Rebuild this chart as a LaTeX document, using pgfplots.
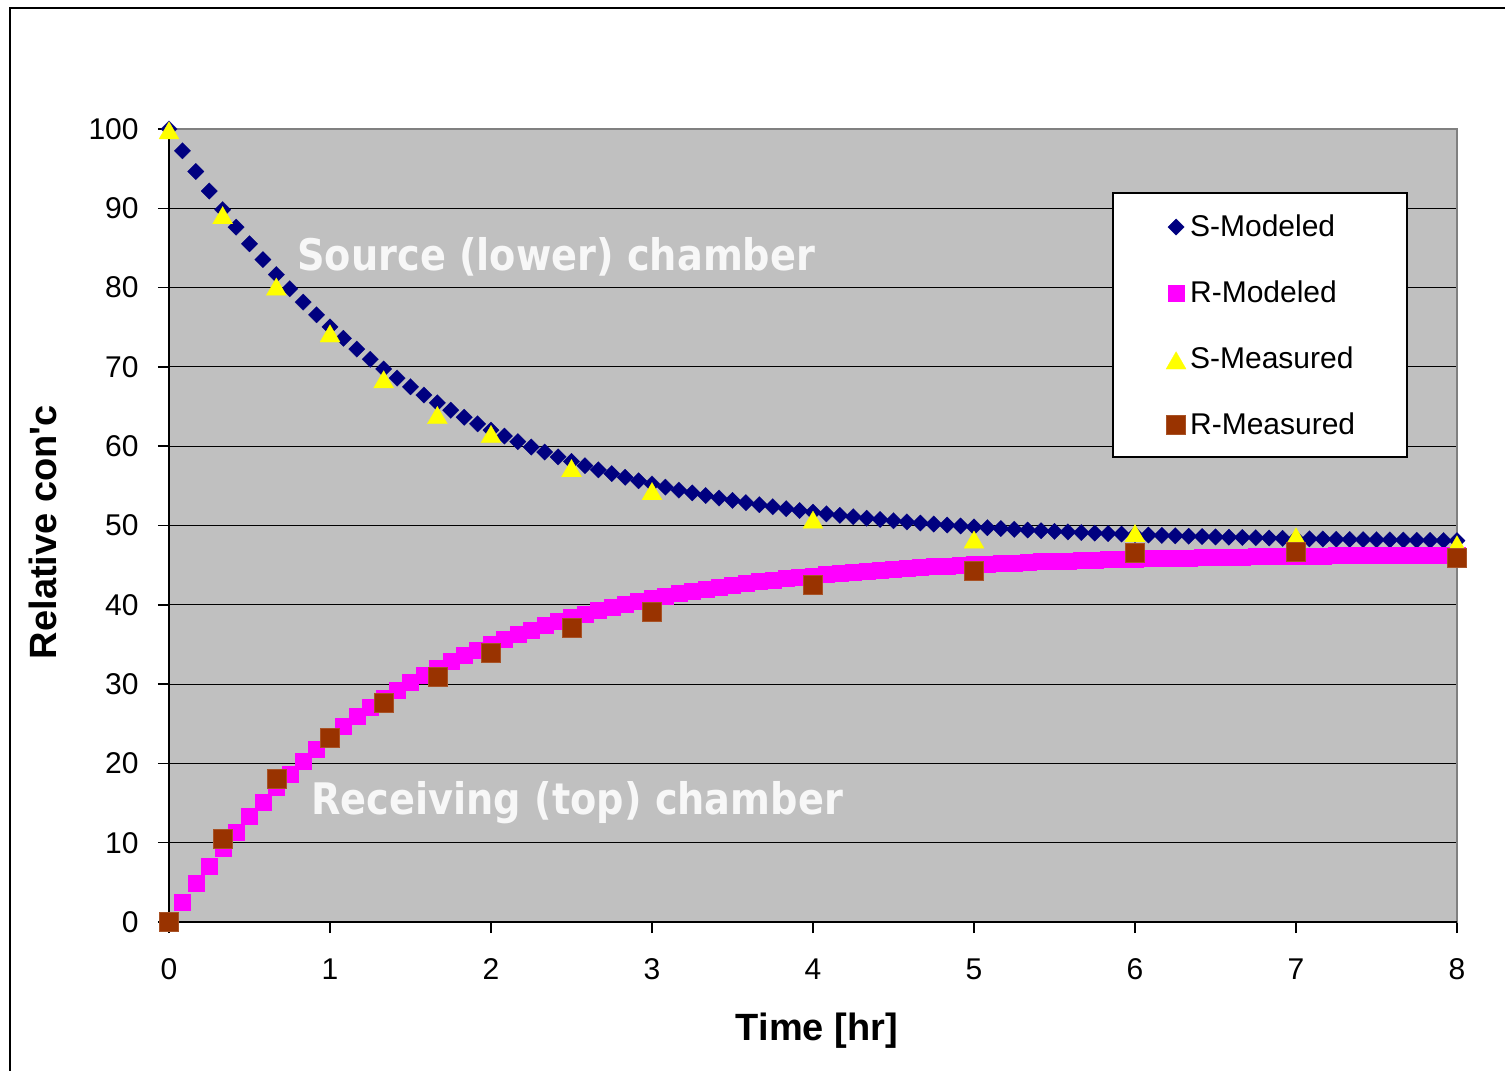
\documentclass[border=0pt]{standalone}
\usepackage{pgfplots}
\pgfplotsset{compat=1.18}
\usepackage{pgfplotstable}
\usepackage{fontspec}
\setmainfont{Liberation Sans}
\newfontfamily\annfont{DejaVu Sans}[FakeStretch=0.88]
\definecolor{plotgray}{RGB}{192,192,192}
\definecolor{navyS}{RGB}{0,0,128}
\definecolor{magR}{RGB}{255,0,255}
\definecolor{yelS}{RGB}{255,255,0}
\definecolor{brnR}{RGB}{153,51,0}
\definecolor{annot}{RGB}{247,247,247}
\definecolor{bordergray}{RGB}{128,128,128}

\pgfplotstableread{
t S R
0 100.00 0.00
0.0833 97.25 2.45
0.1667 94.64 4.85
0.25 92.17 7.10
0.3333 89.83 9.30
0.4167 87.62 11.35
0.5 85.52 13.30
0.5833 83.53 15.15
0.6667 81.64 16.95
0.75 79.86 18.65
0.8333 78.17 20.25
0.9167 76.57 21.80
1 75.05 23.41
1.0833 73.61 24.72
1.1667 72.25 25.95
1.25 70.96 27.12
1.3333 69.74 28.21
1.4167 68.59 29.25
1.5 67.49 30.23
1.5833 66.45 31.15
1.6667 65.47 32.02
1.75 64.54 32.84
1.8333 63.65 33.61
1.9167 62.82 34.34
2 62.03 35.03
2.0833 61.28 35.68
2.1667 60.57 36.30
2.25 59.89 36.87
2.3333 59.26 37.42
2.4167 58.65 37.93
2.5 58.08 38.42
2.5833 57.54 38.88
2.6667 57.02 39.31
2.75 56.54 39.72
2.8333 56.08 40.10
2.9167 55.64 40.46
3 55.23 40.81
3.0833 54.84 41.13
3.1667 54.46 41.43
3.25 54.11 41.72
3.3333 53.78 41.99
3.4167 53.46 42.25
3.5 53.17 42.49
3.5833 52.88 42.71
3.6667 52.62 42.93
3.75 52.36 43.13
3.8333 52.12 43.32
3.9167 51.89 43.50
4 51.68 43.67
4.0833 51.47 43.83
4.1667 51.28 43.98
4.25 51.10 44.13
4.3333 50.92 44.26
4.4167 50.76 44.39
4.5 50.60 44.51
4.5833 50.45 44.62
4.6667 50.31 44.73
4.75 50.18 44.83
4.8333 50.06 44.92
4.9167 49.94 45.01
5 49.82 45.10
5.0833 49.72 45.18
5.1667 49.62 45.25
5.25 49.52 45.32
5.3333 49.43 45.39
5.4167 49.34 45.45
5.5 49.26 45.51
5.5833 49.19 45.57
5.6667 49.11 45.62
5.75 49.04 45.67
5.8333 48.98 45.72
5.9167 48.92 45.76
6 48.86 45.80
6.0833 48.80 45.84
6.1667 48.75 45.88
6.25 48.70 45.91
6.3333 48.65 45.95
6.4167 48.61 45.98
6.5 48.56 46.01
6.5833 48.52 46.04
6.6667 48.49 46.06
6.75 48.45 46.09
6.8333 48.42 46.11
6.9167 48.38 46.13
7 48.35 46.15
7.0833 48.32 46.17
7.1667 48.30 46.19
7.25 48.27 46.21
7.3333 48.24 46.23
7.4167 48.22 46.24
7.5 48.20 46.26
7.5833 48.18 46.27
7.6667 48.16 46.28
7.75 48.14 46.30
7.8333 48.12 46.31
7.9167 48.10 46.32
8 48.09 46.33
}\modeled

\pgfplotstableread{
t S R
0 100 0
0.3333 89.3 10.5
0.6667 80.3 18.0
1 74.4 23.2
1.3333 68.6 27.6
1.6667 64.1 30.9
2 61.7 33.9
2.5 57.4 37.1
3 54.5 39.1
4 50.9 42.5
5 48.4 44.3
6 49.2 46.6
7 48.8 46.7
8 47.8 45.9
}\measured

\begin{document}
\begin{tikzpicture}
\begin{axis}[
  at={(84.5pt,74.5pt)}, anchor=south west,
  scale only axis, width=644pt, height=396.5pt,
  xmin=0, xmax=8, ymin=0, ymax=100,
  xtick={0,1,...,8}, ytick={0,10,...,100},
  tick align=outside, major tick length=5.5pt,
  xtick pos=left, ytick pos=left,
  ymajorgrids, major grid style={black, line width=0.5pt},
  axis background/.style={fill=plotgray},
  axis line style={draw=bordergray, line width=0.75pt},
  every tick/.style={black, line width=0.75pt},
  tick label style={font=\fontsize{15}{18}\selectfont},
  yticklabel style={anchor=east, inner sep=0pt, xshift=-9.5pt},
  xticklabel style={anchor=north, inner sep=0pt, yshift=-12.5pt},
  /pgf/number format/assume math mode=true,
  clip=false,
  xlabel={Time [hr]}, ylabel={Relative con\textquotesingle c},
  label style={font=\bfseries\fontsize{19}{23}\selectfont},
  xlabel style={at={(axis description cs:0.503,-0.1488)}, anchor=base},
  ylabel style={at={(axis description cs:-0.087,0.4918)}, anchor=base},
  legend style={at={(rel axis cs:0.7741,0.8991)}, anchor=north west,
    draw=none, fill=none, inner sep=0pt, outer sep=0pt,
    row sep=16.1pt, column sep=0pt,
    font=\fontsize{15}{18}\selectfont,
    nodes={inner xsep=2pt, inner ysep=0pt, text height=10pt, text depth=3pt}},
  legend cell align=left,
  legend image code/.code={\path[draw=none, fill=none] (-5pt,0.4pt) rectangle (5pt,10.4pt); \draw[#1] plot coordinates {(0pt,1.4pt)};},
]
\draw[black, line width=0.75pt] (rel axis cs:0,1) -- (rel axis cs:0,0) -- (rel axis cs:1,0);
\addplot[only marks, color=navyS, mark=square*, mark size=2.9pt,
  mark options={rotate=45, fill=navyS, draw=navyS, line width=0.1pt}]
  table[x=t, y=S]{\modeled};
\addlegendentry{S-Modeled}
\addplot[only marks, color=magR, mark=square*, mark size=4pt,
  mark options={fill=magR, draw=magR, line width=0.1pt}]
  table[x=t, y=R]{\modeled};
\addlegendentry{R-Modeled}
\addplot[only marks, color=yelS, mark=triangle*, mark size=5.8pt,
  mark options={fill=yelS, draw=yelS, line width=0.1pt, yshift=-2.1pt}]
  table[x=t, y=S]{\measured};
\addlegendentry{S-Measured}
\addplot[only marks, color=brnR, mark=square*, mark size=4.75pt,
  mark options={fill=brnR, draw=brnR!85!white, line width=0.3pt}]
  table[x=t, y=R]{\measured};
\addlegendentry{R-Measured}
\draw[black, line width=0.6pt, fill=white] (rel axis cs:0.7329,0.9193) rectangle (rel axis cs:0.9612,0.5864);
\node[anchor=base west, text=annot, inner sep=0pt,
  font=\annfont\bfseries\fontsize{21.75}{26}\selectfont] at (axis cs:0.795,82.2) {Source (lower) chamber};
\node[anchor=base west, text=annot, inner sep=0pt,
  font=\annfont\bfseries\fontsize{21.75}{26}\selectfont] at (axis cs:0.882,13.5) {Receiving (top) chamber};
\end{axis}
\draw[black, line width=0.6pt] (5pt,0pt) -- (5pt,531.5pt) -- (752.5pt,531.5pt);
\pgfresetboundingbox
\path (0,0) rectangle (752.5pt,535.5pt);
\end{tikzpicture}
\end{document}
